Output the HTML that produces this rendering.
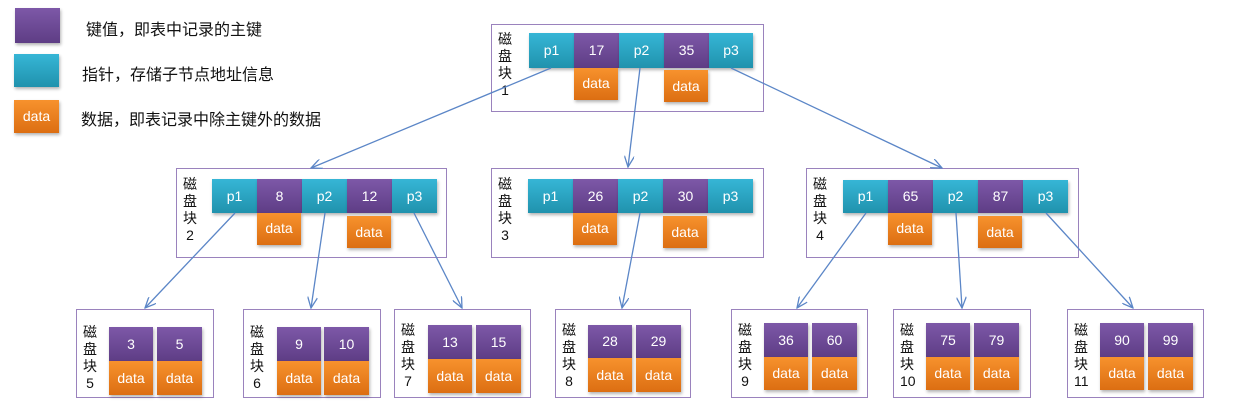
<!DOCTYPE html>
<html><head><meta charset="utf-8"><style>
body{margin:0;background:#fff;}
#c{position:relative;width:1239px;height:419px;overflow:hidden;font-family:"Liberation Sans","Noto Sans CJK SC",sans-serif;}
.box{position:absolute;border:1.5px solid #9a82bd;box-sizing:border-box;background:#fff;}
.lbl{position:absolute;font-size:14px;line-height:17px;color:#111;width:14px;text-align:center;}
.k,.p,.d{position:absolute;color:#fff;font-size:14px;text-align:center;box-sizing:border-box;box-shadow:1px 2px 3px rgba(0,0,0,.3);}
.k{background:linear-gradient(#7d58a8,#5e3d85);}
.p{background:linear-gradient(#36b6d6,#2092ad);}
.d{background:linear-gradient(#f7922d,#dc6e12);}
.t{position:absolute;font-size:16px;color:#111;}
svg{position:absolute;left:0;top:0;}
</style></head><body><div id="c">
<div class="k" style="left:15px;top:8px;width:45px;height:35px"></div>
<div class="p" style="left:14px;top:54px;width:45px;height:33px"></div>
<div class="d" style="left:14px;top:100px;width:45px;height:33px;line-height:33px">data</div>
<div class="t" style="left:86px;top:16px">键值，即表中记录的主键</div>
<div class="t" style="left:82px;top:61px">指针，存储子节点地址信息</div>
<div class="t" style="left:81px;top:106px">数据，即表记录中除主键外的数据</div>

<div class="box" style="left:491px;top:24px;width:273px;height:88px"></div>
<div class="box" style="left:176px;top:168px;width:271px;height:90px"></div>
<div class="box" style="left:491px;top:168px;width:273px;height:90px"></div>
<div class="box" style="left:806px;top:168px;width:273px;height:90px"></div>
<div class="box" style="left:76px;top:309px;width:138px;height:89px"></div>
<div class="box" style="left:243px;top:309px;width:138px;height:89px"></div>
<div class="box" style="left:394px;top:309px;width:137px;height:89px"></div>
<div class="box" style="left:555px;top:309px;width:136px;height:89px"></div>
<div class="box" style="left:731px;top:309px;width:137px;height:89px"></div>
<div class="box" style="left:893px;top:309px;width:138px;height:89px"></div>
<div class="box" style="left:1067px;top:309px;width:137px;height:89px"></div>

<div class="lbl" style="left:498px;top:31px">磁盘块1</div>
<div class="lbl" style="left:183px;top:176px">磁盘块2</div>
<div class="lbl" style="left:498px;top:176px">磁盘块3</div>
<div class="lbl" style="left:813px;top:176px">磁盘块4</div>
<div class="lbl" style="left:83px;top:324px">磁盘块5</div>
<div class="lbl" style="left:250px;top:324px">磁盘块6</div>
<div class="lbl" style="left:401px;top:322px">磁盘块7</div>
<div class="lbl" style="left:562px;top:322px">磁盘块8</div>
<div class="lbl" style="left:738px;top:322px">磁盘块9</div>
<div class="lbl" style="left:900px;top:322px;width:20px;text-align:left">磁<br>盘<br>块<br>10</div>
<div class="lbl" style="left:1074px;top:322px;width:20px;text-align:left">磁<br>盘<br>块<br>11</div>

<div class="p" style="left:529px;top:33px;width:45px;height:35px;line-height:35px">p1</div>
<div class="k" style="left:574px;top:33px;width:45px;height:35px;line-height:35px">17</div>
<div class="p" style="left:619px;top:33px;width:45px;height:35px;line-height:35px">p2</div>
<div class="k" style="left:664px;top:33px;width:45px;height:35px;line-height:35px">35</div>
<div class="p" style="left:709px;top:33px;width:44px;height:35px;line-height:35px">p3</div>
<div class="d" style="left:574px;top:68px;width:44px;height:32px;line-height:30px">data</div>
<div class="d" style="left:664px;top:70px;width:44px;height:32px;line-height:32px">data</div>

<div class="p" style="left:212px;top:179px;width:45px;height:34px;line-height:34px">p1</div>
<div class="k" style="left:257px;top:179px;width:45px;height:34px;line-height:34px">8</div>
<div class="p" style="left:302px;top:179px;width:45px;height:34px;line-height:34px">p2</div>
<div class="k" style="left:347px;top:179px;width:45px;height:34px;line-height:34px">12</div>
<div class="p" style="left:392px;top:179px;width:45px;height:34px;line-height:34px">p3</div>
<div class="d" style="left:257px;top:213px;width:44px;height:32px;line-height:30px">data</div>
<div class="d" style="left:347px;top:216px;width:44px;height:32px;line-height:32px">data</div>

<div class="p" style="left:528px;top:179px;width:45px;height:34px;line-height:34px">p1</div>
<div class="k" style="left:573px;top:179px;width:45px;height:34px;line-height:34px">26</div>
<div class="p" style="left:618px;top:179px;width:45px;height:34px;line-height:34px">p2</div>
<div class="k" style="left:663px;top:179px;width:45px;height:34px;line-height:34px">30</div>
<div class="p" style="left:708px;top:179px;width:45px;height:34px;line-height:34px">p3</div>
<div class="d" style="left:573px;top:213px;width:44px;height:32px;line-height:30px">data</div>
<div class="d" style="left:663px;top:216px;width:44px;height:32px;line-height:32px">data</div>

<div class="p" style="left:843px;top:180px;width:45px;height:33px;line-height:33px">p1</div>
<div class="k" style="left:888px;top:180px;width:45px;height:33px;line-height:33px">65</div>
<div class="p" style="left:933px;top:180px;width:45px;height:33px;line-height:33px">p2</div>
<div class="k" style="left:978px;top:180px;width:45px;height:33px;line-height:33px">87</div>
<div class="p" style="left:1023px;top:180px;width:45px;height:33px;line-height:33px">p3</div>
<div class="d" style="left:888px;top:213px;width:44px;height:32px;line-height:30px">data</div>
<div class="d" style="left:978px;top:216px;width:44px;height:32px;line-height:32px">data</div>

<div class="k" style="left:109px;top:327px;width:44px;height:34px;line-height:34px">3</div>
<div class="k" style="left:157px;top:327px;width:45px;height:34px;line-height:34px">5</div>
<div class="d" style="left:109px;top:361px;width:44px;height:34px;line-height:34px">data</div>
<div class="d" style="left:157px;top:361px;width:45px;height:34px;line-height:34px">data</div>

<div class="k" style="left:277px;top:327px;width:44px;height:34px;line-height:34px">9</div>
<div class="k" style="left:324px;top:327px;width:45px;height:34px;line-height:34px">10</div>
<div class="d" style="left:277px;top:361px;width:44px;height:34px;line-height:34px">data</div>
<div class="d" style="left:324px;top:361px;width:45px;height:34px;line-height:34px">data</div>

<div class="k" style="left:428px;top:325px;width:44px;height:34px;line-height:34px">13</div>
<div class="k" style="left:476px;top:325px;width:45px;height:34px;line-height:34px">15</div>
<div class="d" style="left:428px;top:359px;width:44px;height:34px;line-height:34px">data</div>
<div class="d" style="left:476px;top:359px;width:45px;height:34px;line-height:34px">data</div>

<div class="k" style="left:588px;top:325px;width:44px;height:33px;line-height:33px">28</div>
<div class="k" style="left:636px;top:325px;width:45px;height:33px;line-height:33px">29</div>
<div class="d" style="left:588px;top:358px;width:44px;height:34px;line-height:34px">data</div>
<div class="d" style="left:636px;top:358px;width:45px;height:34px;line-height:34px">data</div>

<div class="k" style="left:764px;top:323px;width:44px;height:34px;line-height:34px">36</div>
<div class="k" style="left:812px;top:323px;width:45px;height:34px;line-height:34px">60</div>
<div class="d" style="left:764px;top:357px;width:44px;height:33px;line-height:33px">data</div>
<div class="d" style="left:812px;top:357px;width:45px;height:33px;line-height:33px">data</div>

<div class="k" style="left:926px;top:323px;width:44px;height:34px;line-height:34px">75</div>
<div class="k" style="left:974px;top:323px;width:45px;height:34px;line-height:34px">79</div>
<div class="d" style="left:926px;top:357px;width:44px;height:33px;line-height:33px">data</div>
<div class="d" style="left:974px;top:357px;width:45px;height:33px;line-height:33px">data</div>

<div class="k" style="left:1100px;top:323px;width:44px;height:34px;line-height:34px">90</div>
<div class="k" style="left:1148px;top:323px;width:45px;height:34px;line-height:34px">99</div>
<div class="d" style="left:1100px;top:357px;width:44px;height:33px;line-height:33px">data</div>
<div class="d" style="left:1148px;top:357px;width:45px;height:33px;line-height:33px">data</div>

<svg width="1239" height="419">
<defs><marker id="a" markerWidth="12" markerHeight="10" refX="11" refY="5" orient="auto" markerUnits="userSpaceOnUse"><path d="M0,0 L11,5 L0,10" fill="none" stroke="#5b86c7" stroke-width="1.3"/></marker></defs>
<g stroke="#5b86c7" stroke-width="1.3" fill="none" marker-end="url(#a)">
<line x1="551" y1="68" x2="311" y2="168"/>
<line x1="640" y1="68" x2="628" y2="167"/>
<line x1="731" y1="68" x2="942" y2="168"/>
<line x1="235" y1="213" x2="145" y2="308"/>
<line x1="325" y1="213" x2="311" y2="308"/>
<line x1="414" y1="213" x2="462" y2="308"/>
<line x1="640" y1="213" x2="622" y2="308"/>
<line x1="866" y1="213" x2="797" y2="308"/>
<line x1="956" y1="213" x2="962" y2="308"/>
<line x1="1046" y1="213" x2="1133" y2="308"/>
</g></svg>
</div></body></html>
